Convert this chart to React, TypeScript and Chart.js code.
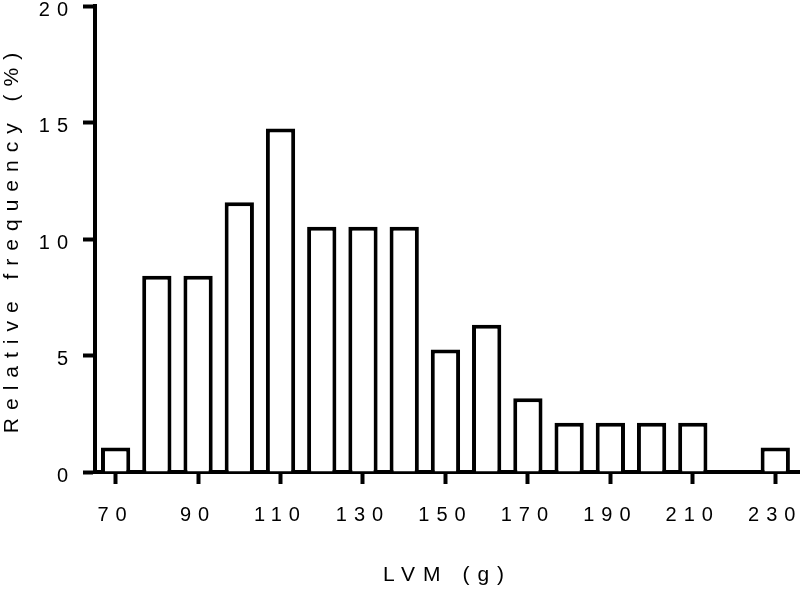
import { useEffect, useRef } from 'react';
import { Chart, registerables } from 'chart.js';

Chart.register(...registerables);

const lvmBins = [70, 80, 90, 100, 110, 120, 130, 140, 150, 160, 170, 180, 190, 200, 210, 220, 230];
const relativeFrequency = [1.05, 8.42, 8.42, 11.58, 14.74, 10.53, 10.53, 10.53, 5.26, 6.32, 3.16, 2.11, 2.11, 2.11, 2.11, 0, 1.05];
const xTickValues = [70, 90, 110, 130, 150, 170, 190, 210, 230];
const yTickValues = [0, 5, 10, 15, 20];
const xTitle = 'LVM (g)';
const yTitle = 'Relative frequency (%)';

const FONT = '"Liberation Sans", Arial, Helvetica, sans-serif';

function patchSpacing(ctx: any) {
  if (ctx.__spacingPatched) return;
  ctx.__spacingPatched = true;
  const ft = ctx.fillText.bind(ctx);
  const mt = ctx.measureText.bind(ctx);
  const apply = () => {
    const f = String(ctx.font);
    ctx.letterSpacing = f.indexOf('21px') >= 0 ? '8px' : '7px';
  };
  ctx.fillText = (...args: any[]) => {
    apply();
    return ft(...args);
  };
  ctx.measureText = (t: string) => {
    apply();
    return mt(t);
  };
}

const spacingPlugin = {
  id: 'letterSpacing',
  afterInit(chart: any) {
    patchSpacing(chart.ctx);
  },
  beforeUpdate(chart: any) {
    patchSpacing(chart.ctx);
  },
};

export default function App() {
  const ref = useRef<HTMLCanvasElement | null>(null);

  useEffect(() => {
    if (!ref.current) return;
    const data = lvmBins.map((x, i) => ({ x, y: relativeFrequency[i] }));
    const chart = new Chart(ref.current, {
      type: 'bar',
      data: {
        datasets: [
          {
            data: data as any,
            backgroundColor: '#ffffff',
            borderColor: '#000000',
            borderWidth: 4,
            borderSkipped: 'start',
            categoryPercentage: 1,
            barPercentage: 0.71,
          },
        ],
      },
      options: {
        responsive: false,
        animation: false,
        devicePixelRatio: 1,
        layout: { padding: { top: 6, right: 0, bottom: 0, left: 0 } },
        plugins: {
          legend: { display: false },
          tooltip: { enabled: false },
        },
        scales: {
          x: {
            type: 'linear',
            min: 65,
            max: 236,
            offset: false,
            afterBuildTicks: (scale: any) => {
              scale.ticks = xTickValues.map((value) => ({ value }));
            },
            afterFit: (scale: any) => {
              scale.height = 118;
              scale.paddingLeft = 0;
              scale.paddingRight = 0;
            },
            border: { display: true, color: '#000', width: 4 },
            grid: {
              display: true,
              offset: false,
              drawOnChartArea: false,
              drawTicks: true,
              tickLength: 12,
              tickWidth: 4,
              tickColor: '#000',
              color: '#000',
            },
            ticks: {
              color: '#000',
              font: { family: FONT, size: 20 },
              padding: 19,
              maxRotation: 0,
              autoSkip: false,
            },
            title: {
              display: true,
              text: xTitle,
              color: '#000',
              font: { family: FONT, size: 21 },
              padding: { top: 0, bottom: 2 },
            },
          },
          y: {
            type: 'linear',
            min: 0,
            max: 20,
            offset: false,
            afterBuildTicks: (scale: any) => {
              scale.ticks = yTickValues.map((value) => ({ value }));
            },
            afterFit: (scale: any) => {
              scale.width = 95;
              scale.paddingTop = 0;
              scale.paddingBottom = 0;
            },
            border: { display: true, color: '#000', width: 4 },
            grid: {
              display: true,
              offset: false,
              drawOnChartArea: false,
              drawTicks: true,
              tickLength: 12,
              tickWidth: 4,
              tickColor: '#000',
              color: '#000',
            },
            ticks: {
              color: '#000',
              font: { family: FONT, size: 20 },
              padding: 8,
              labelOffset: 4,
            },
            title: {
              display: true,
              text: yTitle,
              color: '#000',
              font: { family: FONT, size: 21 },
              padding: { top: 0, bottom: 0 },
            },
          },
        },
      },
      plugins: [spacingPlugin],
    });
    return () => chart.destroy();
  }, []);

  return (
    <canvas
      ref={ref}
      width={800}
      height={590}
      style={{ position: 'fixed', left: 0, top: 0, width: 800, height: 590, background: '#fff' }}
    />
  );
}
